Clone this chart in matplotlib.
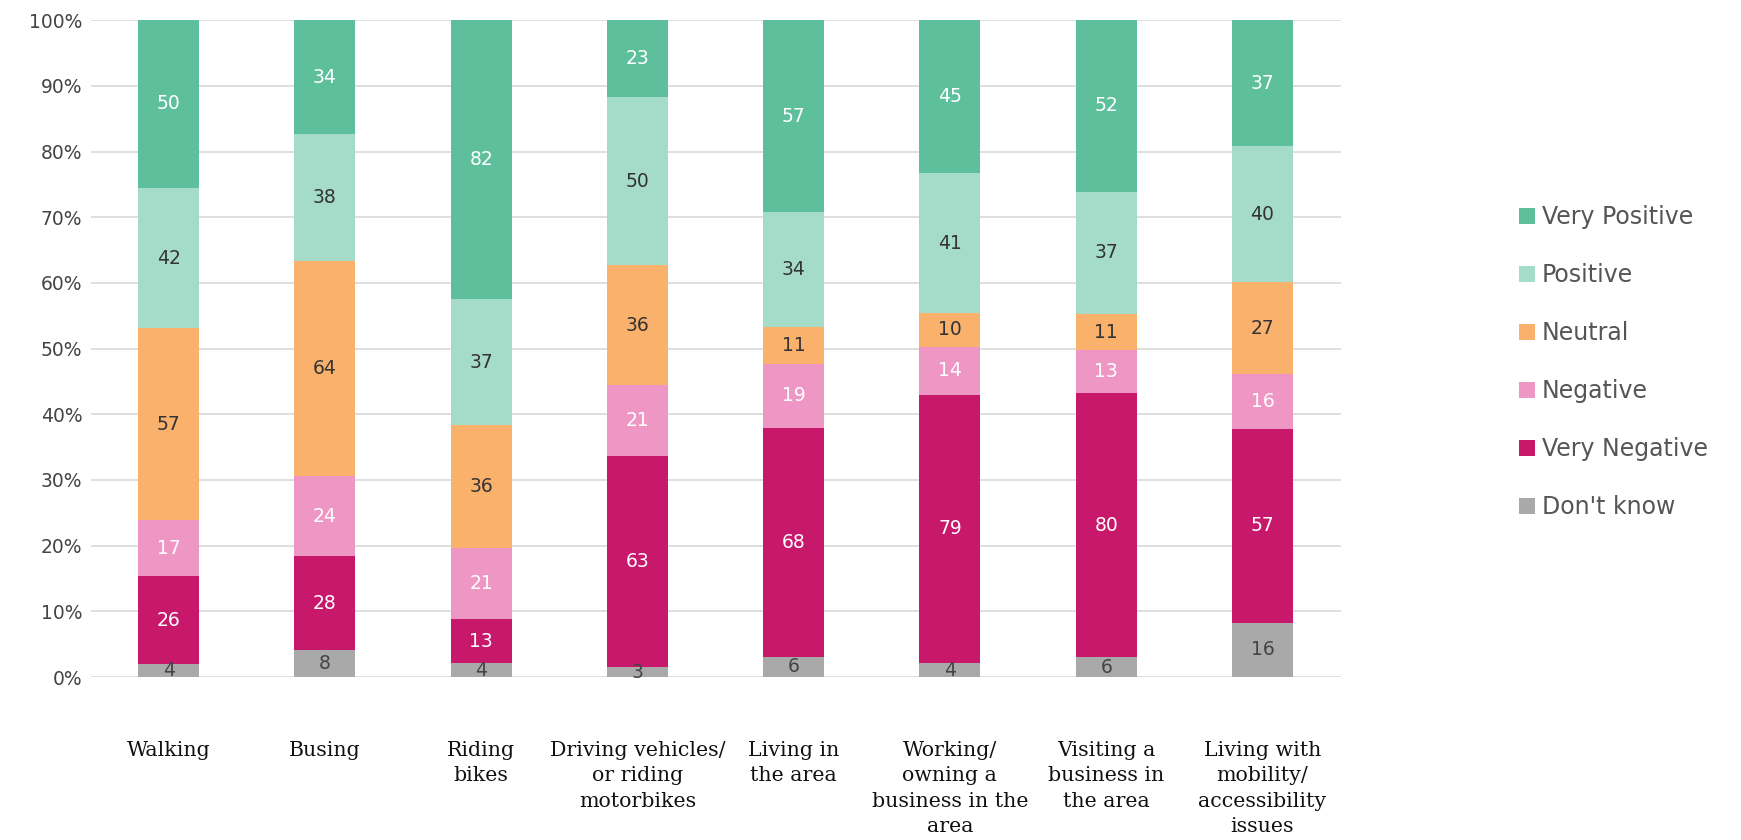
import numpy as np
import matplotlib.pyplot as plt
from matplotlib.ticker import PercentFormatter

categories = [
    "Walking",
    "Busing",
    "Riding\nbikes",
    "Driving vehicles/\nor riding\nmotorbikes",
    "Living in\nthe area",
    "Working/\nowning a\nbusiness in the\narea",
    "Visiting a\nbusiness in\nthe area",
    "Living with\nmobility/\naccessibility\nissues",
]

# response counts, stacked bottom to top
dont_know     = [4, 8, 4, 3, 6, 4, 6, 16]
very_negative = [26, 28, 13, 63, 68, 79, 80, 57]
negative      = [17, 24, 21, 21, 19, 14, 13, 16]
neutral       = [57, 64, 36, 36, 11, 10, 11, 27]
positive      = [42, 38, 37, 50, 34, 41, 37, 40]
very_positive = [50, 34, 82, 23, 57, 45, 52, 37]

series = [
    ("Don't know", dont_know, "#a9a9a9", "#444444"),
    ("Very Negative", very_negative, "#c8186b", "white"),
    ("Negative", negative, "#ee96c4", "white"),
    ("Neutral", neutral, "#f9b16c", "#333333"),
    ("Positive", positive, "#a5dcc9", "#333333"),
    ("Very Positive", very_positive, "#5dbf9c", "white"),
]

counts = np.array([s[1] for s in series], dtype=float)
totals = counts.sum(axis=0)
shares = counts / totals

fig = plt.figure(figsize=(17.41, 8.4), dpi=100)
ax = fig.add_axes([0.052, 0.194, 0.718, 0.782])

x = np.arange(len(categories))
bottom = np.zeros(len(categories))
bars = []
for (name, vals, color, tcolor), share in zip(series, shares):
    b = ax.bar(x, share, 0.39, bottom=bottom, color=color, label=name, zorder=3)
    ax.bar_label(b, labels=[str(v) for v in vals], label_type="center",
                 color=tcolor, fontsize=13.5, zorder=4)
    bars.append(b)
    bottom += share

ax.set_xlim(-0.5, len(categories) - 0.5)
ax.set_ylim(0, 1)
ax.set_yticks(np.arange(0, 1.01, 0.1))
ax.yaxis.set_major_formatter(PercentFormatter(1.0, decimals=0))
ax.grid(axis="y", color="#d9d9d9", linewidth=1.2, zorder=0)
for sp in ax.spines.values():
    sp.set_visible(False)

ax.set_xticks(x)
ax.set_xticklabels(categories, family="DejaVu Serif", fontsize=14.8,
                   color="#111111", linespacing=1.42, va="top")
ax.tick_params(axis="x", length=0, pad=46)
ax.tick_params(axis="y", length=0, pad=6, labelsize=13.5, labelcolor="#444444")

handles = bars[::-1]
labels = [s[0] for s in series][::-1]
fig.legend(handles, labels, loc="center left", bbox_to_anchor=(0.860, 0.569),
           frameon=False, fontsize=17, labelcolor="#555555",
           handlelength=0.7, handleheight=0.7, handletextpad=0.3,
           labelspacing=1.44)

fig.savefig("out.png", dpi=100)
